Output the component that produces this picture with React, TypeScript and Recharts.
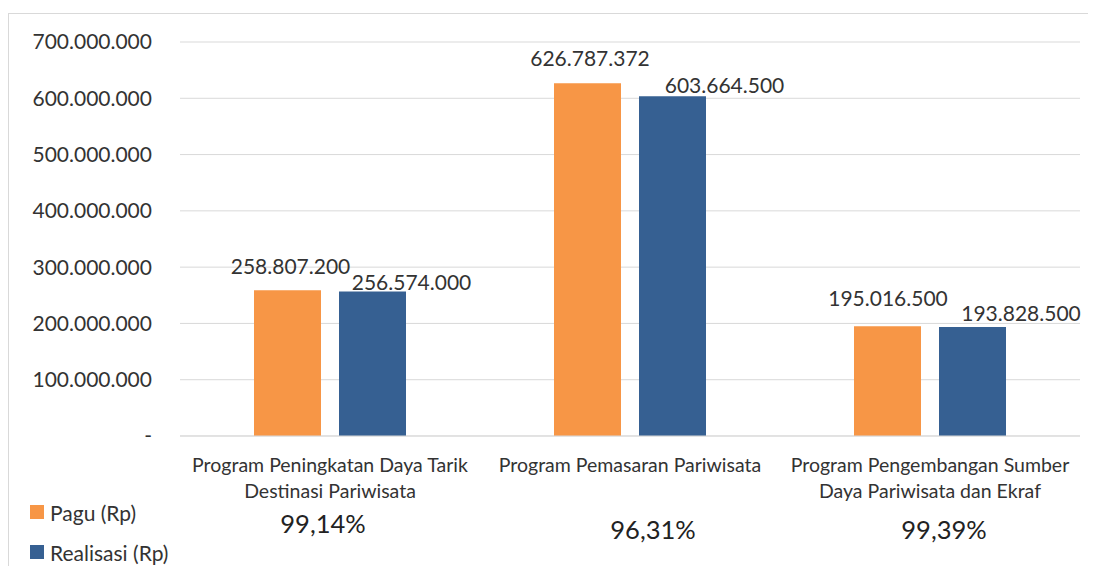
import React from "react";
import { BarChart, Bar, XAxis, YAxis, CartesianGrid, Legend, LabelList } from "recharts";

// ---- data ----
const categories = [
  "Program Peningkatan Daya Tarik Destinasi Pariwisata",
  "Program Pemasaran Pariwisata",
  "Program Pengembangan Sumber Daya Pariwisata dan Ekraf",
];
const categoryLines = [
  ["Program Peningkatan Daya Tarik", "Destinasi Pariwisata"],
  ["Program Pemasaran Pariwisata"],
  ["Program Pengembangan Sumber", "Daya Pariwisata dan Ekraf"],
];
const pagu = [258807200, 626787372, 195016500];
const realisasi = [256574000, 603664500, 193828500];
const percentLabels = ["99,14%", "96,31%", "99,39%"];
const yTicks = [0, 100000000, 200000000, 300000000, 400000000, 500000000, 600000000, 700000000];
const seriesNames = ["Pagu (Rp)", "Realisasi (Rp)"];

// ---- layout / style (not data) ----
const ORANGE = "#F79646";
const BLUE = "#366092";
const TEXT = "#333333";
const GRID = "#D9D9D9";
const FONT = "Lato, 'Open Sans', sans-serif";
const paguLabelOffsets = [
  { dx: 3, dy: -24.5 },
  { dx: 2.5, dy: -26 },
  { dx: 0.5, dy: -29 },
];
const realisasiLabelOffsets = [
  { dx: 39, dy: -10.5 },
  { dx: 52, dy: -12 },
  { dx: 48.5, dy: -14.5 },
];
const percentOffsets = [
  { dx: -7, dy: 87 },
  { dx: 23, dy: 93 },
  { dx: 14, dy: 93 },
];

const chartData = categories.map((name, i) => ({
  name,
  pagu: pagu[i],
  realisasi: realisasi[i],
}));

const fmt = (v: number) =>
  v === 0 ? "-" : String(Math.round(v)).replace(/\B(?=(\d{3})+(?!\d))/g, ".");

const makeLabel = (offsets: { dx: number; dy: number }[]) => (props: any) => {
  const { x, y, width, value, index } = props;
  const o = offsets[index] || { dx: 0, dy: -20 };
  return (
    <text
      x={Number(x) + Number(width) / 2 + o.dx}
      y={Number(y) + o.dy}
      textAnchor="middle"
      dominantBaseline="central"
      fill={TEXT}
      fontSize={21}
      fontFamily={FONT}
    >
      {fmt(Number(value))}
    </text>
  );
};

const CategoryTick = (props: any) => {
  const { x, y, payload, index } = props;
  const idx = typeof index === "number" ? index : categories.indexOf(payload.value);
  const lines = categoryLines[idx] || [payload.value];
  const p = percentOffsets[idx];
  return (
    <g>
      {lines.map((ln, i) => (
        <text
          key={i}
          x={x}
          y={y + 28.5 + i * 26}
          textAnchor="middle"
          dominantBaseline="central"
          fill={TEXT}
          fontSize={19.5}
          fontFamily={FONT}
        >
          {ln}
        </text>
      ))}
      <text
        x={x + p.dx}
        y={y + p.dy}
        textAnchor="middle"
        dominantBaseline="central"
        fill="#222222"
        fontSize={25.5}
        fontFamily={FONT}
      >
        {percentLabels[idx]}
      </text>
    </g>
  );
};

const LegendContent = () => {
  const colors = [ORANGE, BLUE];
  return (
    <div style={{ fontFamily: FONT, fontSize: 21, color: TEXT }}>
      {seriesNames.map((n, i) => (
        <div key={n} style={{ display: "flex", alignItems: "center", height: 40 }}>
          <span
            style={{
              display: "inline-block",
              width: 14,
              height: 14,
              background: colors[i],
              marginRight: 6,
            }}
          />
          <span>{n}</span>
        </div>
      ))}
    </div>
  );
};

export default function App() {
  return (
    <div style={{ paddingTop: 5 }}>
      <div
        style={{
          width: 1088,
          height: 553,
          borderLeft: `1px solid ${GRID}`,
          borderTop: `1px solid ${GRID}`,
          boxSizing: "border-box",
          background: "#fff",
        }}
      >
        <BarChart
          width={1087}
          height={552}
          data={chartData}
          margin={{ top: 28, right: 16, left: 0, bottom: 0 }}
          barCategoryGap={74}
          barGap={18}
        >
          <CartesianGrid vertical={false} stroke={GRID} strokeWidth={1} />
          <XAxis
            dataKey="name"
            height={130}
            interval={0}
            tickLine={false}
            tickSize={0}
            tickMargin={0}
            axisLine={{ stroke: GRID }}
            tick={<CategoryTick />}
          />
          <YAxis
            width={171}
            domain={[0, 700000000]}
            ticks={yTicks}
            interval={0}
            axisLine={false}
            tickLine={false}
            tickSize={0}
            tickMargin={28}
            tickFormatter={fmt}
            tick={{ fill: TEXT, fontSize: 21, fontFamily: FONT }}
          />
          <Legend
            layout="horizontal"
            verticalAlign="middle"
            align="center"
            content={<LegendContent />}
            wrapperStyle={{ left: 21, top: 478, width: 200 }}
          />
          <Bar dataKey="pagu" name={seriesNames[0]} fill={ORANGE} isAnimationActive={false}>
            <LabelList dataKey="pagu" content={makeLabel(paguLabelOffsets)} />
          </Bar>
          <Bar dataKey="realisasi" name={seriesNames[1]} fill={BLUE} isAnimationActive={false}>
            <LabelList dataKey="realisasi" content={makeLabel(realisasiLabelOffsets)} />
          </Bar>
        </BarChart>
      </div>
    </div>
  );
}
